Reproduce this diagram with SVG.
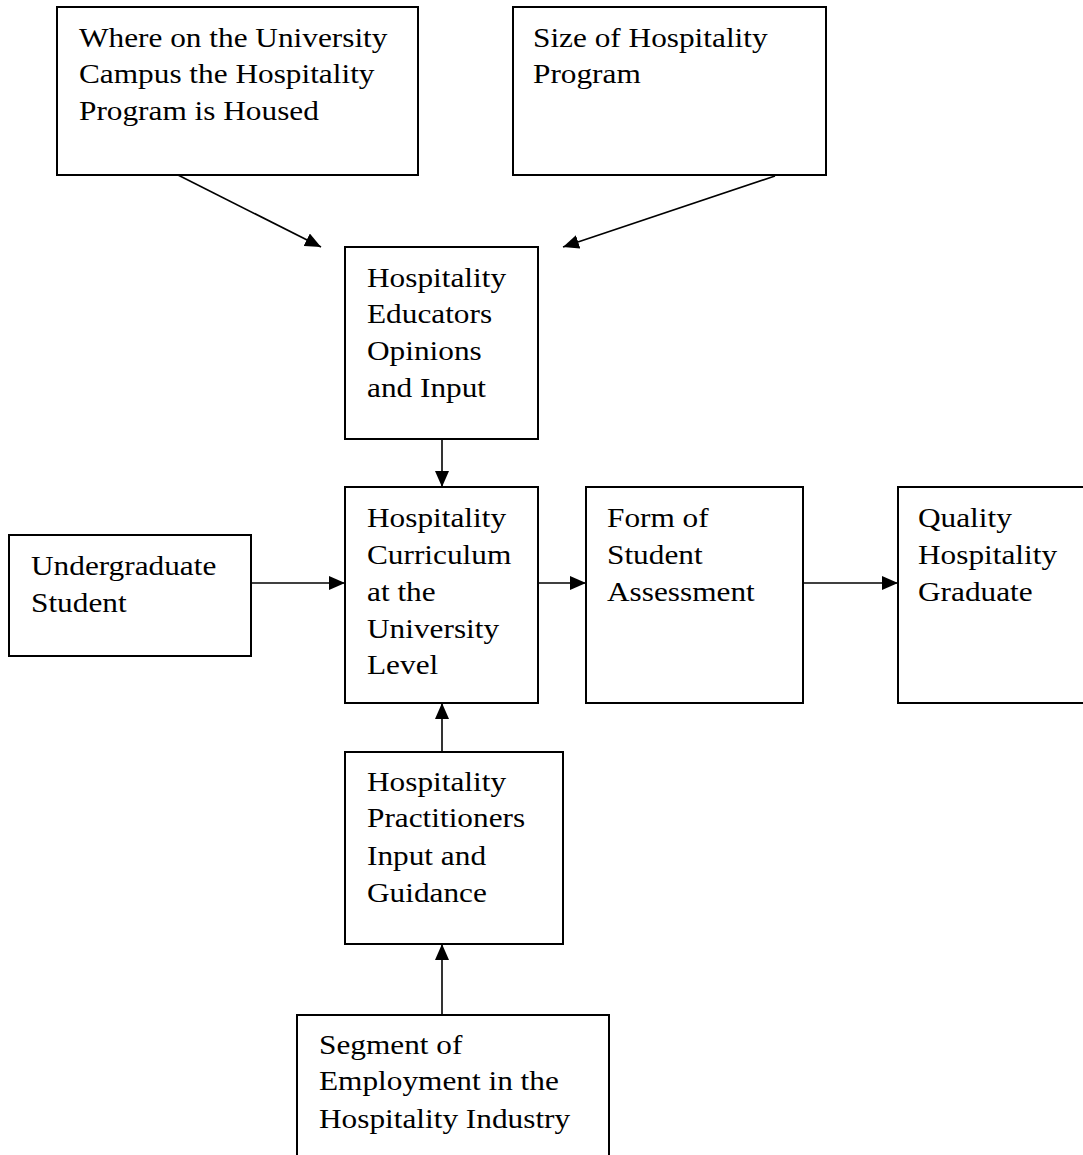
<svg xmlns="http://www.w3.org/2000/svg" width="1083" height="1155" viewBox="0 0 1083 1155">
<style>
.box{fill:#fff;stroke:#000;stroke-width:2}
.t{font-family:"Liberation Serif","Times New Roman",serif;font-size:31.3px;fill:#000}
.c{stroke:#000;stroke-width:1.6;fill:none;marker-end:url(#ah)}
</style>
<defs>
<marker id="ah" markerUnits="userSpaceOnUse" markerWidth="17" markerHeight="14" refX="16" refY="7" orient="auto">
<path d="M0,0 L16,7 L0,14 z" fill="#000"/>
</marker>
</defs>
<rect width="1083" height="1155" fill="#fff"/>
<g id="connectors">
<line class="c" x1="178" y1="175" x2="321" y2="247"/>
<line class="c" x1="775" y1="176" x2="563" y2="247"/>
<line class="c" x1="442" y1="439" x2="442" y2="487"/>
<line class="c" x1="251" y1="583" x2="345" y2="583"/>
<line class="c" x1="538" y1="583" x2="586" y2="583"/>
<line class="c" x1="803" y1="583" x2="898" y2="583"/>
<line class="c" x1="442" y1="752" x2="442" y2="703"/>
<line class="c" x1="442" y1="1015" x2="442" y2="944"/>
</g>
<g id="where">
<rect class="box" x="57" y="7" width="361" height="168"/>
<text class="t" transform="translate(79,47) scale(1,0.88)">Where on the University</text>
<text class="t" transform="translate(79,83) scale(1,0.88)">Campus the Hospitality</text>
<text class="t" transform="translate(79,120) scale(1,0.88)">Program is Housed</text>
</g>
<g id="size">
<rect class="box" x="513" y="7" width="313" height="168"/>
<text class="t" transform="translate(533,47) scale(1,0.88)">Size of Hospitality</text>
<text class="t" transform="translate(533,83) scale(1,0.88)">Program</text>
</g>
<g id="educators">
<rect class="box" x="345" y="247" width="193" height="192"/>
<text class="t" transform="translate(367,287) scale(1,0.88)">Hospitality</text>
<text class="t" transform="translate(367,323) scale(1,0.88)">Educators</text>
<text class="t" transform="translate(367,360) scale(1,0.88)">Opinions</text>
<text class="t" transform="translate(367,397) scale(1,0.88)">and Input</text>
</g>
<g id="undergrad">
<rect class="box" x="9" y="535" width="242" height="121"/>
<text class="t" transform="translate(31,575) scale(1,0.88)">Undergraduate</text>
<text class="t" transform="translate(31,612) scale(1,0.88)">Student</text>
</g>
<g id="curriculum">
<rect class="box" x="345" y="487" width="193" height="216"/>
<text class="t" transform="translate(367,527) scale(1,0.88)">Hospitality</text>
<text class="t" transform="translate(367,564) scale(1,0.88)">Curriculum</text>
<text class="t" transform="translate(367,601) scale(1,0.88)">at the</text>
<text class="t" transform="translate(367,638) scale(1,0.88)">University</text>
<text class="t" transform="translate(367,674) scale(1,0.88)">Level</text>
</g>
<g id="assessment">
<rect class="box" x="586" y="487" width="217" height="216"/>
<text class="t" transform="translate(607,527) scale(1,0.88)">Form of</text>
<text class="t" transform="translate(607,564) scale(1,0.88)">Student</text>
<text class="t" transform="translate(607,601) scale(1,0.88)">Assessment</text>
</g>
<g id="graduate">
<rect class="box" x="898" y="487" width="195" height="216"/>
<text class="t" transform="translate(918,527) scale(1,0.88)">Quality</text>
<text class="t" transform="translate(918,564) scale(1,0.88)">Hospitality</text>
<text class="t" transform="translate(918,601) scale(1,0.88)">Graduate</text>
</g>
<g id="practitioners">
<rect class="box" x="345" y="752" width="218" height="192"/>
<text class="t" transform="translate(367,791) scale(1,0.88)">Hospitality</text>
<text class="t" transform="translate(367,827) scale(1,0.88)">Practitioners</text>
<text class="t" transform="translate(367,865) scale(1,0.88)">Input and</text>
<text class="t" transform="translate(367,902) scale(1,0.88)">Guidance</text>
</g>
<g id="segment">
<rect class="box" x="297" y="1015" width="312" height="160"/>
<text class="t" transform="translate(319,1054) scale(1,0.88)">Segment of</text>
<text class="t" transform="translate(319,1090) scale(1,0.88)">Employment in the</text>
<text class="t" transform="translate(319,1128) scale(1,0.88)">Hospitality Industry</text>
</g>
</svg>
